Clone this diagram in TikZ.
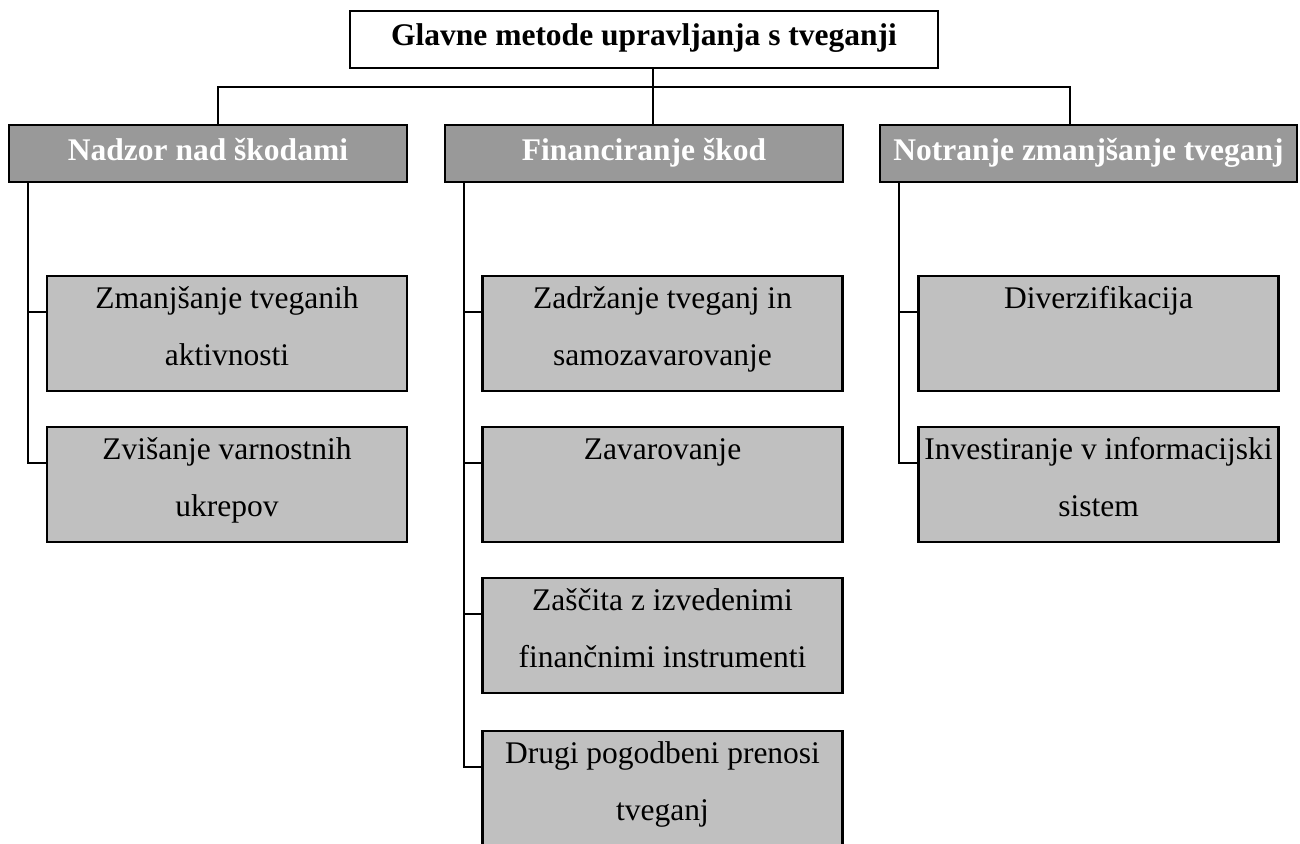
\documentclass[tikz,border=0pt]{standalone}
\usepackage{fontspec}
\setmainfont{Liberation Serif}
\usepackage{tikz}
\definecolor{catgray}{HTML}{999999}
\definecolor{subgray}{HTML}{C0C0C0}
\newcommand{\twolines}[2]{\rule{0pt}{12pt}#1\\#2\rule[-9pt]{0pt}{0pt}}
\tikzset{
		txt/.style={font=\fontsize{15.75pt}{28.5pt}\selectfont, align=center, inner sep=0pt},
		headbox/.style={txt, draw, fill=white, line width=1.1pt, minimum width=294pt, minimum height=28.5pt, text height=9.5pt, text depth=4pt, font=\fontsize{15.75pt}{28.5pt}\selectfont\bfseries},
		catbox/.style={txt, draw, fill=catgray, text=white, line width=1.1pt, minimum height=28.5pt, text height=10pt, text depth=3.5pt, font=\fontsize{15.75pt}{28.5pt}\selectfont\bfseries},
		subbox/.style={txt, draw, fill=subgray, line width=1.1pt, minimum width=180pt, minimum height=57.5pt},
		link/.style={line width=0.9pt}
	}

\begin{document}
\begin{tikzpicture}[x=0.5pt, y=-0.5pt]
				\useasboundingbox (0,0) rectangle (1300,843);
				\node[headbox] (glavne) at (644,39.5) {Glavne metode upravljanja s tveganji};
				\node[catbox, minimum width=199pt]   (nadzor)   at (208,153.5)    {Nadzor nad škodami};
				\node[catbox, minimum width=199pt]   (financ)   at (644,153.5)    {Financiranje škod};
				\node[catbox, minimum width=208.5pt] (notranje) at (1088.5,153.5) {Notranje zmanjšanje tveganj};
				\node[subbox] (zmanj)  at (227,333.5)    {\twolines{Zmanjšanje tveganih}{aktivnosti}};
				\node[subbox] (zvis)   at (227,484.5)    {\twolines{Zvišanje varnostnih}{ukrepov}};
				\node[subbox] (zadr)   at (662.5,333.5)  {\twolines{Zadržanje tveganj in}{samozavarovanje}};
				\node[subbox] (zavar)  at (662.5,484.5)  {\twolines{Zavarovanje}{}};
				\node[subbox] (zasc)   at (662.5,635.5)  {\twolines{Zaščita z izvedenimi}{finančnimi instrumenti}};
				\node[subbox] (drugi)  at (662.5,788.5)  {\twolines{Drugi pogodbeni prenosi}{tveganj}};
				\node[subbox] (diverz) at (1098.5,333.5) {\twolines{Diverzifikacija}{}};
				\node[subbox] (invest) at (1098.5,484.5) {\twolines{Investiranje v informacijski}{sistem}};
				\coordinate (bus) at (653,87);
				\draw[link] ([xshift=4.5pt]glavne.south) -- ([xshift=4.5pt]financ.north);
				\draw[link] ([xshift=5pt]nadzor.north) |- (bus) -| ([xshift=-9.25pt]notranje.north);
				\foreach \cat/\sub in {nadzor/zmanj, nadzor/zvis, financ/zadr, financ/zavar, financ/zasc, financ/drugi, notranje/diverz, notranje/invest}
					\draw[link] ([yshift=-18.5pt]\sub.north west) -| ([xshift=10pt]\cat.south west);
			\end{tikzpicture}
\end{document}
